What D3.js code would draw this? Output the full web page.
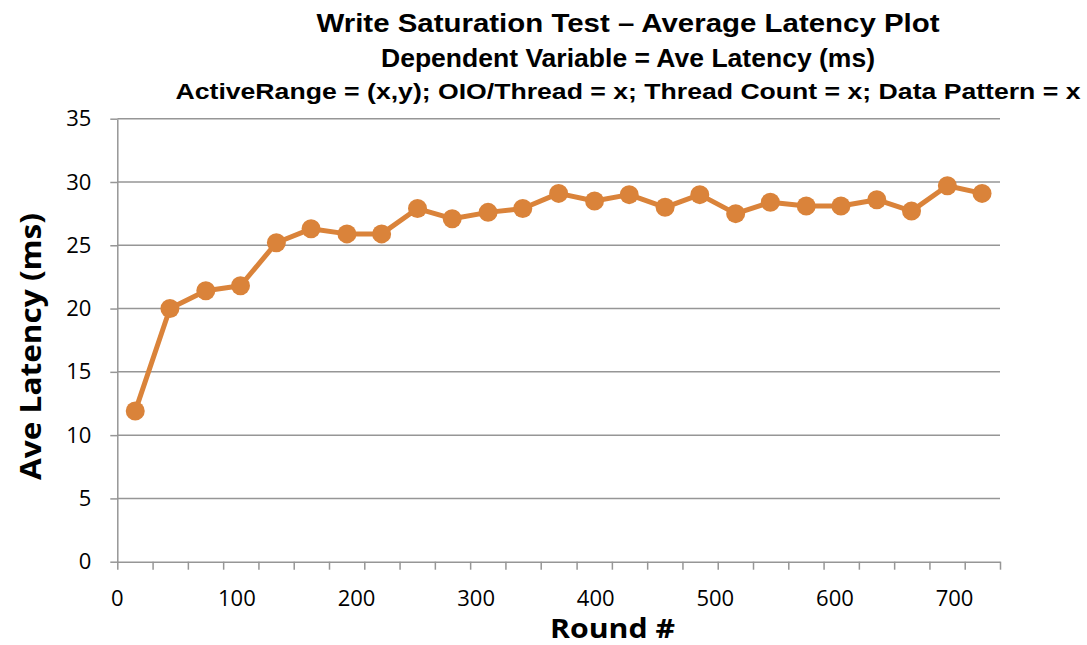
<!DOCTYPE html>
<html>
<head>
<meta charset="utf-8">
<script src="https://cdn.jsdelivr.net/npm/d3@7"></script>
<style>
  html, body { margin: 0; padding: 0; background: #fff; }
  svg { display: block; }
</style>
</head>
<body>
<svg id="chart" width="1087" height="645"></svg>
<script>
// ---- data ----
const titleLines = [
  "Write Saturation Test \u2013 Average Latency Plot",
  "Dependent Variable = Ave Latency (ms)",
  "ActiveRange = (x,y); OIO/Thread = x; Thread Count = x; Data Pattern = x"
];
const xTitle = "Round #";
const yTitle = "Ave Latency (ms)";
const rounds = [15, 44, 74, 103, 133, 162, 192, 221, 251, 280, 310, 339, 369, 399, 428, 458, 487, 517, 546, 576, 605, 635, 664, 694, 723];
const latency = [11.9, 20.0, 21.4, 21.8, 25.2, 26.3, 25.9, 25.9, 27.9, 27.1, 27.6, 27.9, 29.1, 28.5, 29.0, 28.0, 29.0, 27.5, 28.4, 28.1, 28.1, 28.6, 27.7, 29.7, 29.1];
const xTickLabels = [0, 100, 200, 300, 400, 500, 600, 700];
const yTickLabels = [0, 5, 10, 15, 20, 25, 30, 35];
const xMax = 738;
const yMax = 35;

// ---- layout ----
const svg = d3.select("#chart");
const L = 117.3, R = 1000, T = 118.7, B = 561.7;
const orange = "#DA833A";
const grid = "#969696";
const labelFont = "'Open Sans', sans-serif";

const x = d3.scaleLinear().domain([0, xMax]).range([L, R]);
const y = d3.scaleLinear().domain([0, yMax]).range([B, T]);

// gridlines
svg.append("g").selectAll("line").data(yTickLabels.filter(d => d > 0)).join("line")
  .attr("x1", L).attr("x2", R)
  .attr("y1", d => y(d)).attr("y2", d => y(d))
  .attr("stroke", grid).attr("stroke-width", 1.5);

// y axis
const yAxis = svg.append("g").attr("transform", `translate(${L},0)`)
  .call(d3.axisLeft(y).tickValues(yTickLabels).tickSize(7).tickPadding(19).tickSizeOuter(0));
yAxis.select(".domain").attr("stroke", grid).attr("stroke-width", 1.5);
yAxis.selectAll(".tick line").attr("stroke", grid).attr("stroke-width", 1.5);
yAxis.selectAll(".tick text").attr("font-family", labelFont).attr("font-size", 22).attr("fill", "#000");

// x axis: category boundary ticks derived from data
const bounds = [0];
for (let i = 0; i < rounds.length - 1; i++) bounds.push((rounds[i] + rounds[i + 1]) / 2);
bounds.push(xMax);
const xAxisG = svg.append("g").attr("transform", `translate(0,${B})`)
  .call(d3.axisBottom(x).tickValues(bounds).tickSize(8).tickSizeOuter(0).tickFormat(""));
xAxisG.select(".domain").attr("stroke", grid).attr("stroke-width", 1.5);
xAxisG.selectAll(".tick line").attr("stroke", grid).attr("stroke-width", 1.5);

// x labels
svg.append("g").selectAll("text").data(xTickLabels).join("text")
  .attr("x", d => x(d)).attr("y", 606)
  .attr("text-anchor", "middle")
  .attr("font-family", labelFont).attr("font-size", 22).attr("fill", "#000")
  .text(d => d);

// line + markers
const pts = rounds.map((r, i) => [r, latency[i]]);
svg.append("path").datum(pts)
  .attr("fill", "none").attr("stroke", orange).attr("stroke-width", 5)
  .attr("stroke-linejoin", "round")
  .attr("d", d3.line().x(d => x(d[0])).y(d => y(d[1])));
svg.append("g").selectAll("circle").data(pts).join("circle")
  .attr("cx", d => x(d[0])).attr("cy", d => y(d[1])).attr("r", 9.5)
  .attr("fill", orange);

// titles
const titleFont = "'Liberation Sans', Arial, sans-serif";
const titleSpecs = [
  {y: 31.5, size: 25, len: 623},
  {y: 66.5, size: 25, len: 494},
  {y: 98.5, size: 22, len: 905}
];
svg.append("g").selectAll("text").data(titleLines).join("text")
  .attr("x", 628).attr("y", (d, i) => titleSpecs[i].y)
  .attr("text-anchor", "middle")
  .attr("font-family", titleFont).attr("font-weight", "bold")
  .attr("font-size", (d, i) => titleSpecs[i].size)
  .attr("textLength", (d, i) => titleSpecs[i].len)
  .attr("lengthAdjust", "spacingAndGlyphs")
  .attr("fill", "#000")
  .text(d => d);

// axis titles
svg.append("text")
  .attr("x", 612.5).attr("y", 638)
  .attr("text-anchor", "middle")
  .attr("font-family", labelFont).attr("font-weight", "bold").attr("font-size", 26)
  .attr("textLength", 125).attr("lengthAdjust", "spacingAndGlyphs")
  .text(xTitle);
svg.append("text")
  .attr("transform", "translate(41,346.5) rotate(-90)")
  .attr("text-anchor", "middle")
  .attr("font-family", labelFont).attr("font-weight", "bold").attr("font-size", 28)
  .attr("textLength", 267).attr("lengthAdjust", "spacingAndGlyphs")
  .text(yTitle);
</script>
</body>
</html>
